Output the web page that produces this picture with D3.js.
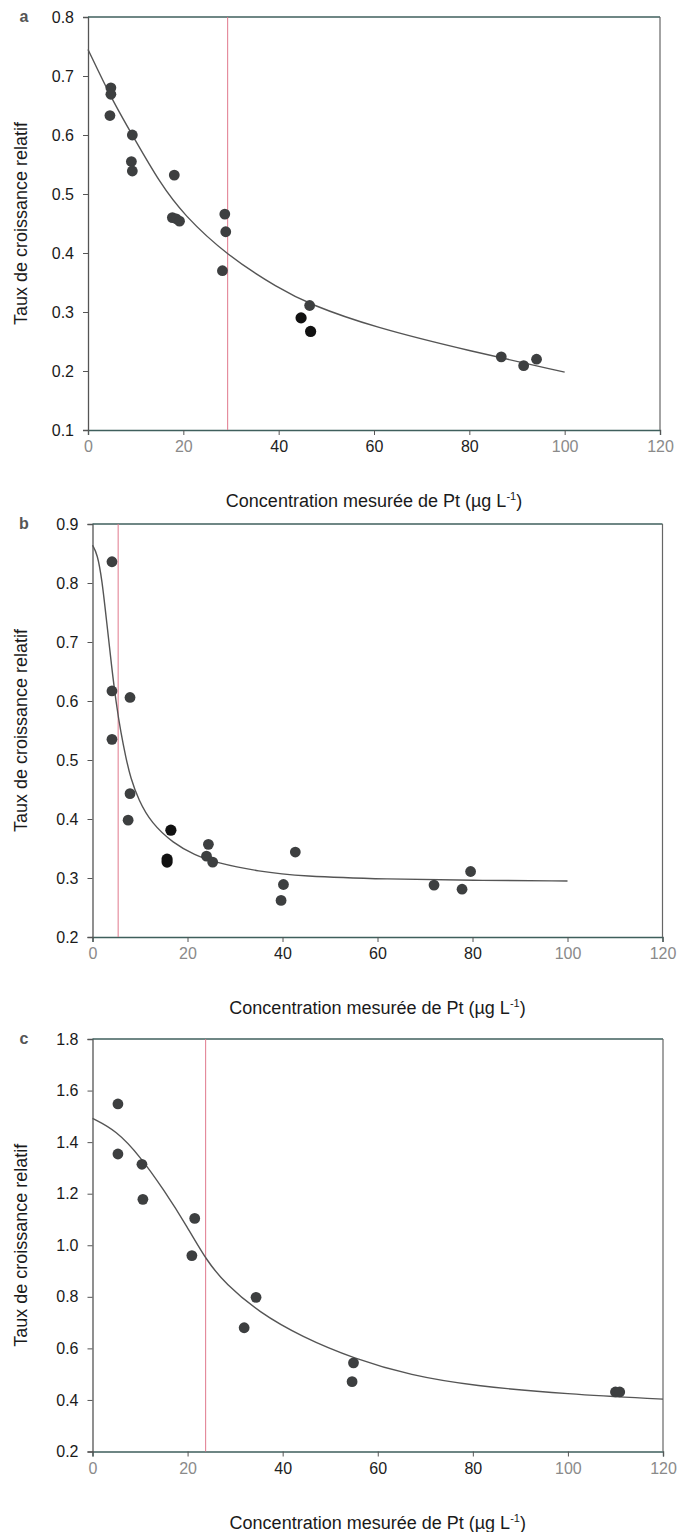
<!DOCTYPE html>
<html><head><meta charset="utf-8">
<script src="https://cdn.jsdelivr.net/npm/d3@7"></script>
<style>
html,body{margin:0;padding:0;background:#fff;}
svg{display:block;}
text{font-family:"Liberation Sans",Arial,Helvetica,sans-serif;}
</style></head>
<body>
<svg id="chart" width="677" height="1532"></svg>
<script>
// ---------- data ----------
const xTicks = [0, 20, 40, 60, 80, 100, 120];

const aX = [4.8, 4.8, 4.6, 9.3, 9.1, 9.3, 18.1, 17.7, 18.5, 19.2, 28.7, 28.9, 28.2, 46.5, 86.7, 91.4, 94.1];
const aY = [0.680, 0.669, 0.633, 0.600, 0.555, 0.539, 0.532, 0.460, 0.458, 0.454, 0.466, 0.436, 0.370, 0.311, 0.224, 0.209, 0.220];
const aDarkX = [44.7, 46.7];
const aDarkY = [0.290, 0.267];
const aCurveX = [0, 5, 10, 15, 20, 29.3, 40, 46.5, 60, 80, 100];
const aCurveY = [0.745, 0.660, 0.590, 0.520, 0.465, 0.395, 0.340, 0.313, 0.274, 0.234, 0.198];
const aEC = 29.3;
const aYTicks = [0.1, 0.2, 0.3, 0.4, 0.5, 0.6, 0.7, 0.8];

const bX = [4.1, 4.1, 7.9, 4.1, 7.9, 7.5, 24.4, 24.0, 25.3, 42.7, 40.2, 39.7, 71.9, 77.8, 79.6];
const bY = [0.836, 0.617, 0.606, 0.535, 0.443, 0.398, 0.357, 0.337, 0.327, 0.344, 0.289, 0.262, 0.288, 0.281, 0.311];
const bDarkX = [16.5, 15.7, 15.7];
const bDarkY = [0.381, 0.332, 0.327];
const bCurveX = [0, 1, 2, 3, 4, 5, 6, 7, 8, 9.7, 12.4, 17, 21.5, 26, 35, 44, 62, 80, 100];
const bCurveY = [0.864, 0.850, 0.806, 0.733, 0.660, 0.595, 0.545, 0.505, 0.470, 0.432, 0.393, 0.359, 0.339, 0.326, 0.311, 0.303, 0.298, 0.296, 0.295];
const bEC = 5.4;
const bYTicks = [0.2, 0.3, 0.4, 0.5, 0.6, 0.7, 0.8, 0.9];

const cX = [5.35, 5.35, 10.4, 10.6, 21.5, 20.9, 34.4, 31.9, 54.9, 54.6, 110.0, 110.9];
const cY = [1.548, 1.354, 1.314, 1.178, 1.104, 0.960, 0.798, 0.680, 0.544, 0.471, 0.431, 0.431];
const cDarkX = [];
const cDarkY = [];
const cCurveX = [0, 5, 10, 15, 20, 24, 28, 35, 44, 55, 67, 80, 100, 120];
const cCurveY = [1.492, 1.445, 1.345, 1.215, 1.070, 0.940, 0.850, 0.740, 0.645, 0.560, 0.495, 0.455, 0.422, 0.403];
const cEC = 23.8;
const cYTicks = [0.2, 0.4, 0.6, 0.8, 1.0, 1.2, 1.4, 1.6, 1.8];

const panelLabels = ["a", "b", "c"];
const yTitle = "Taux de croissance relatif";
const xTitleMain = "Concentration mesurée de Pt (µg L";
const xTitleSup = "-1";
const xTitleEnd = ")";

// ---------- layout ----------
const layouts = [
  {left: 88, right: 660, top: 17, bottom: 430},
  {left: 92.5, right: 662.5, top: 524, bottom: 937},
  {left: 92.5, right: 663, top: 1039, bottom: 1451.5}
];
const lightXLabels = [0, 20, 100, 120];

const panels = [
  {label: panelLabels[0], x: aX, y: aY, dx: aDarkX, dy: aDarkY, cx: aCurveX, cy: aCurveY, ec: aEC, yTicks: aYTicks},
  {label: panelLabels[1], x: bX, y: bY, dx: bDarkX, dy: bDarkY, cx: bCurveX, cy: bCurveY, ec: bEC, yTicks: bYTicks},
  {label: panelLabels[2], x: cX, y: cY, dx: cDarkX, dy: cDarkY, cx: cCurveX, cy: cCurveY, ec: cEC, yTicks: cYTicks}
];

const svg = d3.select("#chart");

panels.forEach((p, i) => {
  const L = layouts[i];
  const x = d3.scaleLinear().domain([0, 120]).range([L.left, L.right]);
  const yMin = p.yTicks[0], yMax = p.yTicks[p.yTicks.length - 1];
  const y = d3.scaleLinear().domain([yMin, yMax]).range([L.bottom, L.top]);
  const g = svg.append("g");

  // axes
  const xAxis = g.append("g").attr("transform", `translate(0,${L.bottom})`)
    .call(d3.axisBottom(x).tickValues(xTicks).tickSize(5).tickPadding(6).tickFormat(d3.format("d")));
  xAxis.select(".domain").attr("stroke", "#3f5f5c").attr("stroke-width", 1.4);
  xAxis.selectAll(".tick line").attr("stroke", "#555");
  xAxis.selectAll(".tick text")
    .attr("font-size", 16)
    .attr("fill", d => lightXLabels.includes(d) ? "#8a8a8a" : "#222");

  const yAxis = g.append("g").attr("transform", `translate(${L.left},0)`)
    .call(d3.axisLeft(y).tickValues(p.yTicks).tickSize(5).tickPadding(9).tickFormat(d3.format(".1f")));
  yAxis.select(".domain").attr("stroke", "#555").attr("stroke-width", 1.3);
  yAxis.selectAll(".tick line").attr("stroke", "#555");
  yAxis.selectAll(".tick text").attr("font-size", 16).attr("fill", "#1a1a1a");

  // top & right frame
  g.append("line").attr("x1", L.left).attr("x2", L.right).attr("y1", L.top).attr("y2", L.top)
    .attr("stroke", "#3f5f5c").attr("stroke-width", 1.4);
  g.append("line").attr("x1", L.right).attr("x2", L.right).attr("y1", L.top).attr("y2", L.bottom)
    .attr("stroke", "#666").attr("stroke-width", 1.2);

  // red vertical line
  g.append("line").attr("x1", x(p.ec)).attr("x2", x(p.ec)).attr("y1", L.top).attr("y2", L.bottom)
    .attr("stroke", "#e0788c").attr("stroke-width", 1);

  // fitted curve
  const line = d3.line().x(d => x(d[0])).y(d => y(d[1])).curve(d3.curveBasis);
  g.append("path").datum(d3.zip(p.cx, p.cy)).attr("d", line)
    .attr("fill", "none").attr("stroke", "#555").attr("stroke-width", 1.4);

  // points
  g.selectAll("circle.pt").data(d3.zip(p.x, p.y)).join("circle").attr("class", "pt")
    .attr("cx", d => x(d[0])).attr("cy", d => y(d[1])).attr("r", 5.4)
    .attr("fill", "#3d3f40");
  g.selectAll("circle.dk").data(d3.zip(p.dx, p.dy)).join("circle").attr("class", "dk")
    .attr("cx", d => x(d[0])).attr("cy", d => y(d[1])).attr("r", 5.6)
    .attr("fill", "#111");

  // panel label
  g.append("text").attr("x", 24).attr("y", L.top + 5).attr("text-anchor", "middle")
    .attr("font-size", 16).attr("font-weight", "bold").attr("fill", "#555").text(p.label);

  // y title
  g.append("text")
    .attr("transform", `translate(27,${(L.top + L.bottom) / 2}) rotate(-90)`)
    .attr("text-anchor", "middle").attr("font-size", 18).attr("fill", "#1a1a1a").text(yTitle);

  // x title
  const xt = g.append("text").attr("x", (L.left + L.right) / 2).attr("y", L.bottom + 77)
    .attr("text-anchor", "middle").attr("font-size", 18).attr("fill", "#1a1a1a");
  xt.append("tspan").text(xTitleMain);
  xt.append("tspan").attr("font-size", 11).attr("dy", -7).text(xTitleSup);
  xt.append("tspan").attr("dy", 7).text(xTitleEnd);
});
</script>
</body></html>
